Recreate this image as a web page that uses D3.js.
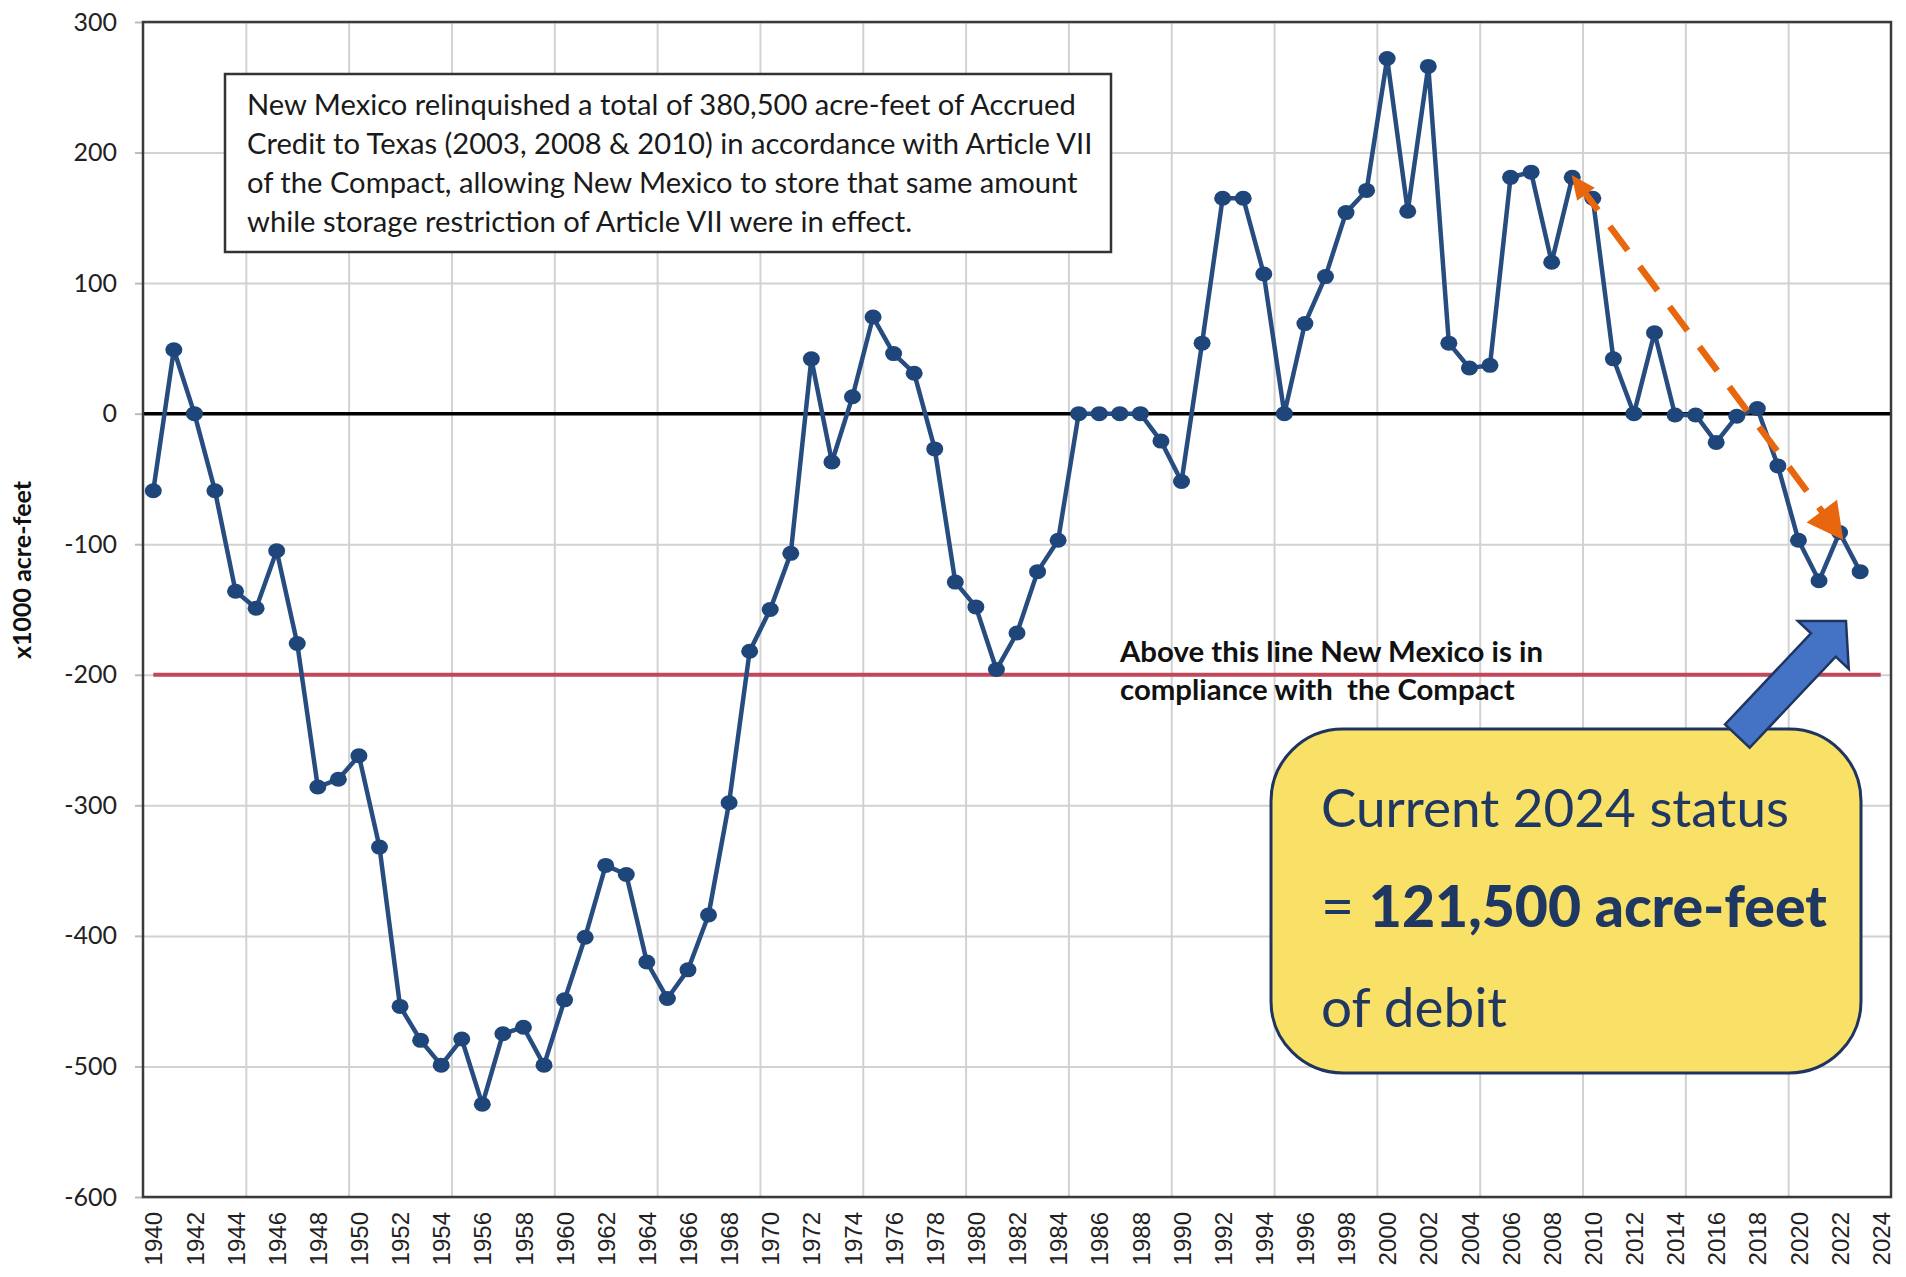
<!DOCTYPE html>
<html>
<head>
  <meta charset="utf-8">
  <title>Rio Grande Compact accrued debit/credit</title>
  <script src="https://cdn.jsdelivr.net/npm/d3@7"></script>
  <style>
    body { margin: 0; background: #fff; }
    svg text { font-family: Lato, 'Liberation Sans', sans-serif; }
    .xlab text { font-family: 'Liberation Sans', Arial, sans-serif; font-size: 24px; fill: #222; }
    .ylab text { font-size: 25px; fill: #222; }
  </style>
</head>
<body>
<svg id="chart" width="1906" height="1277"></svg>

<script>
// accrued balance, x1000 acre-feet
var years = [
  1940, 1941, 1942, 1943, 1944, 1945, 1946, 1947, 1948, 1949,
  1950, 1951, 1952, 1953, 1954, 1955, 1956, 1957, 1958, 1959,
  1960, 1961, 1962, 1963, 1964, 1965, 1966, 1967, 1968, 1969,
  1970, 1971, 1972, 1973, 1974, 1975, 1976, 1977, 1978, 1979,
  1980, 1981, 1982, 1983, 1984, 1985, 1986, 1987, 1988, 1989,
  1990, 1991, 1992, 1993, 1994, 1995, 1996, 1997, 1998, 1999,
  2000, 2001, 2002, 2003, 2004, 2005, 2006, 2007, 2008, 2009,
  2010, 2011, 2012, 2013, 2014, 2015, 2016, 2017, 2018, 2019,
  2020, 2021, 2022, 2023
];
var balance = [
  -59, 49, 0, -59, -136, -149, -105, -176, -286, -280,
  -262, -332, -454, -480, -499, -479, -529, -475, -470, -499,
  -449, -401, -346, -353, -420, -448, -426, -384, -298, -182,
  -150, -107, 42, -37, 13, 74, 46, 31, -27, -129,
  -148, -196, -168, -121, -97, 0, 0, 0, 0, -21,
  -52, 54, 165, 165, 107, 0, 69, 105, 154, 171,
  272, 155, 266, 54, 35, 37, 181, 185, 116, 181,
  165, 42, 0, 62, -1, -1, -22, -2, 4, -40,
  -97, -128, -91, -121
];
var xTickLabels = [
  1940, 1942, 1944, 1946, 1948, 1950, 1952, 1954, 1956, 1958,
  1960, 1962, 1964, 1966, 1968, 1970, 1972, 1974, 1976, 1978,
  1980, 1982, 1984, 1986, 1988, 1990, 1992, 1994, 1996, 1998,
  2000, 2002, 2004, 2006, 2008, 2010, 2012, 2014, 2016, 2018,
  2020, 2022, 2024
];
var xGridLines = [1944.5, 1949.5, 1954.5, 1959.5, 1964.5, 1969.5, 1974.5, 1979.5,
  1984.5, 1989.5, 1994.5, 1999.5, 2004.5, 2009.5, 2014.5, 2019.5];
var yTicks = [-600, -500, -400, -300, -200, -100, 0, 100, 200, 300];
var complianceYears = [1940, 2024];
var complianceLevel = -200;

var noteLines = [
  'New Mexico relinquished a total of 380,500 acre-feet of Accrued',
  'Credit to Texas (2003, 2008 & 2010) in accordance with Article VII',
  'of the Compact, allowing New Mexico to store that same amount',
  'while storage restriction of Article VII were in effect.'
];
var complianceLines = ['Above this line New Mexico is in', 'compliance with\u00a0 the Compact'];

// trend arrow (orange) and pointer arrow (blue), in data units
var trendFrom = { year: 2008.97, value: 182.8 };
var trendTo = { year: 2022.18, value: -96.8 };
var pointerTail = { year: 2017.03, value: -246.9 };
var pointerTip = { year: 2022.31, value: -158.8 };

var svg = d3.select('#chart'),
  margin = { top: 22, right: 15, bottom: 80, left: 143 },
  width = +svg.attr('width') - margin.left - margin.right,
  height = +svg.attr('height') - margin.top - margin.bottom,
  g = svg.append('g').attr('transform', 'translate(' + margin.left + ',' + margin.top + ')');

var x = d3.scaleLinear()
  .domain([1939.5, 2024.5])
  .range([0, width]);

var y = d3.scaleLinear()
  .domain([-600, 300])
  .range([height, 0]);

// gridlines
g.append('g')
  .call(d3.axisLeft(y).tickValues(yTicks).tickSize(-width).tickFormat(''))
  .call(a => a.select('.domain').remove())
  .selectAll('line').attr('stroke', '#d2d2d2').attr('stroke-width', 2);

g.append('g')
  .attr('transform', 'translate(0,' + height + ')')
  .call(d3.axisBottom(x).tickValues(xGridLines).tickSize(-height).tickFormat(''))
  .call(a => a.select('.domain').remove())
  .selectAll('line').attr('stroke', '#d2d2d2').attr('stroke-width', 2);

// small outside ticks
g.append('g')
  .call(d3.axisLeft(y).tickValues(yTicks).tickSize(8).tickFormat(''))
  .call(a => a.select('.domain').remove())
  .selectAll('line').attr('stroke', '#bbb').attr('stroke-width', 2);

// y labels (plain hyphen minus like the original)
g.append('g')
  .attr('class', 'ylab')
  .call(d3.axisLeft(y).tickValues(yTicks).tickSize(0).tickPadding(26).tickFormat(d => String(d)))
  .call(a => a.select('.domain').remove())
  .selectAll('text').attr('font-size', null);

// x labels, rotated
g.append('g')
  .attr('class', 'xlab')
  .attr('transform', 'translate(0,' + height + ')')
  .call(d3.axisBottom(x).tickValues(xTickLabels).tickSize(0).tickFormat(d3.format('d')))
  .call(a => a.select('.domain').remove())
  .selectAll('text')
  .attr('font-size', null)
  .attr('transform', 'rotate(-90)')
  .attr('x', -15)
  .attr('y', 0)
  .attr('dy', '0.36em')
  .attr('text-anchor', 'end');

// compliance line
g.append('path')
  .datum(complianceYears)
  .attr('fill', 'none')
  .attr('stroke', '#c0485a')
  .attr('stroke-width', 4)
  .attr('d', d3.line().x(d => x(d)).y(() => y(complianceLevel)));

// zero line
g.append('line')
  .attr('x1', 0).attr('x2', width)
  .attr('y1', y(0)).attr('y2', y(0))
  .attr('stroke', '#000')
  .attr('stroke-width', 3.5);

// plot frame
g.append('rect')
  .attr('width', width).attr('height', height)
  .attr('fill', 'none')
  .attr('stroke', '#3a3a3a')
  .attr('stroke-width', 2.5);

// y title
svg.append('text')
  .attr('transform', 'translate(31,570) rotate(-90)')
  .attr('text-anchor', 'middle')
  .attr('font-weight', 'bold')
  .attr('font-size', 25)
  .attr('fill', '#111')
  .text('x1000 acre-feet');

// data
var series = years.map((d, i) => ({ year: d, value: balance[i] }));

g.append('path')
  .datum(series)
  .attr('fill', 'none')
  .attr('stroke', '#264c80')
  .attr('stroke-width', 4.5)
  .attr('stroke-linejoin', 'round')
  .attr('d', d3.line().x(d => x(d.year)).y(d => y(d.value)));

g.selectAll('.dot')
  .data(series)
  .enter().append('ellipse')
  .attr('class', 'dot')
  .attr('cx', d => x(d.year))
  .attr('cy', d => y(d.value))
  .attr('rx', 8.5).attr('ry', 7.5)
  .attr('fill', '#1f467a');

// fit a text element to a target width
function fit(t, w) {
  var fs = parseFloat(t.attr('font-size'));
  var len = t.node().getComputedTextLength();
  t.attr('font-size', (fs * w / len).toFixed(2));
  return +t.attr('font-size');
}

// note box
svg.append('rect')
  .attr('x', 225).attr('y', 74).attr('width', 886).attr('height', 178)
  .attr('fill', '#fff').attr('stroke', '#333').attr('stroke-width', 2.5);

var note = svg.append('g').attr('fill', '#1a1a1a');
var noteFirst = note.append('text').attr('x', 247).attr('y', 115).attr('font-size', 27).text(noteLines[0]);
var noteSize = fit(noteFirst, 829);
noteLines.slice(1).forEach((l, i) => {
  note.append('text').attr('x', 247).attr('y', 115 + 39 * (i + 1)).attr('font-size', noteSize).text(l);
});

// compliance note
var comp = svg.append('g').attr('fill', '#111').attr('font-weight', 'bold');
var compFirst = comp.append('text').attr('x', 1120).attr('y', 662).attr('font-size', 26).text(complianceLines[0]);
var compSize = fit(compFirst, 423);
comp.append('text').attr('x', 1120).attr('y', 700).attr('font-size', compSize).text(complianceLines[1]);

// orange trend arrow
var orange = '#e8660d';
var p0 = [margin.left + x(trendFrom.year), margin.top + y(trendFrom.value)];
var p1 = [margin.left + x(trendTo.year), margin.top + y(trendTo.value)];
var dx = p1[0] - p0[0], dy = p1[1] - p0[1], L = Math.hypot(dx, dy);
var u = [dx / L, dy / L], n = [-u[1], u[0]];

function head(tip, dir, len, half) {
  var b = [tip[0] - dir[0] * len, tip[1] - dir[1] * len];
  return [tip, [b[0] + n[0] * half, b[1] + n[1] * half], [b[0] - n[0] * half, b[1] - n[1] * half]];
}

svg.append('line')
  .attr('x1', p0[0] + u[0] * 14).attr('y1', p0[1] + u[1] * 14)
  .attr('x2', p1[0] - u[0] * 30).attr('y2', p1[1] - u[1] * 30)
  .attr('stroke', orange).attr('stroke-width', 6.5)
  .attr('stroke-dasharray', '30 20');

svg.append('polygon')
  .attr('points', head(p0, [-u[0], -u[1]], 24, 11).join(' '))
  .attr('fill', orange);
svg.append('polygon')
  .attr('points', head(p1, u, 36, 19).join(' '))
  .attr('fill', orange);

// yellow callout
svg.append('rect')
  .attr('x', 1271).attr('y', 729).attr('width', 590).attr('height', 344)
  .attr('rx', 72).attr('ry', 72)
  .attr('fill', '#f9e067').attr('stroke', '#1f3560').attr('stroke-width', 3);

var navy = '#1f3763';
var c1 = svg.append('text').attr('x', 1321).attr('y', 827).attr('font-size', 50).attr('fill', navy)
  .text('Current 2024 status');
fit(c1, 468);
var c2 = svg.append('text').attr('x', 1321).attr('y', 927).attr('font-size', 50).attr('fill', navy);
c2.append('tspan').text('= ');
c2.append('tspan').attr('font-weight', 900).text('121,500 acre-feet');
fit(c2, 506);
var c3 = svg.append('text').attr('x', 1321).attr('y', 1027).attr('font-size', 50).attr('fill', navy)
  .text('of debit');
fit(c3, 186);

// blue block arrow
var t0 = [margin.left + x(pointerTail.year), margin.top + y(pointerTail.value)];
var t1 = [margin.left + x(pointerTip.year), margin.top + y(pointerTip.value)];
var bx = t1[0] - t0[0], by = t1[1] - t0[1], BL = Math.hypot(bx, by);
var bu = [bx / BL, by / BL], bn = [-bu[1], bu[0]];
var hl = 33, hw = 35, sw = 17;
var base = [t1[0] - bu[0] * hl, t1[1] - bu[1] * hl];
var pts = [
  [t0[0] + bn[0] * sw, t0[1] + bn[1] * sw],
  [base[0] + bn[0] * sw, base[1] + bn[1] * sw],
  [base[0] + bn[0] * hw, base[1] + bn[1] * hw],
  t1,
  [base[0] - bn[0] * hw, base[1] - bn[1] * hw],
  [base[0] - bn[0] * sw, base[1] - bn[1] * sw],
  [t0[0] - bn[0] * sw, t0[1] - bn[1] * sw]
];
svg.append('polygon')
  .attr('points', pts.join(' '))
  .attr('fill', '#4472c4')
  .attr('stroke', '#1f3560')
  .attr('stroke-width', 2.5)
  .attr('stroke-linejoin', 'miter');
</script>
</body>
</html>
